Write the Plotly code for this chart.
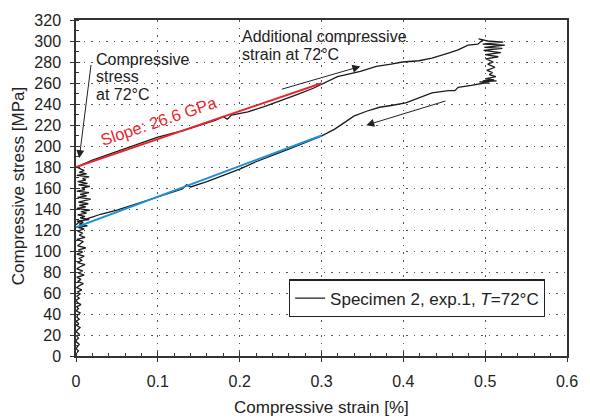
import plotly.graph_objects as go

# ---- data ----
# rise of stress at ~zero strain (heating at 72°C)
strain_vert = [0.001, 0.003, 0.000, 0.002, 0.004, 0.001, 0.000, 0.003, 0.001, 0.004,
               0.000, 0.002, 0.005, 0.001, 0.003, 0.000, 0.004, 0.001, 0.002, 0.005,
               0.000, 0.003, 0.001, 0.006, 0.002, 0.000, 0.004, 0.001, 0.005,
               0.002, 0.007, 0.001, 0.004, 0.009, 0.002, 0.006, 0.001, 0.010, 0.003,
               0.008, 0.001, 0.005, 0.011, 0.002, 0.007, 0.004, 0.010, 0.001, 0.008,
               0.003, 0.012, 0.002, 0.006, 0.009, 0.001, 0.011, 0.004, 0.008, 0.002,
               0.010, 0.002, 0.014, 0.004, 0.009, 0.001, 0.016, 0.005, 0.011, 0.002,
               0.013, 0.006, 0.017, 0.001, 0.012, 0.004, 0.015, 0.003, 0.010, 0.018,
               0.002, 0.013, 0.005, 0.016, 0.001, 0.011, 0.007, 0.017, 0.003, 0.014,
               0.002, 0.012, 0.008, 0.016, 0.001, 0.013, 0.004, 0.010, 0.006, 0.001]
stress_vert = [3, 5, 7, 9, 11, 13, 15, 17, 19, 21,
               23, 25, 27, 29, 31, 33, 35, 37, 39, 41,
               43, 45, 47, 49, 51, 53, 55, 57, 59,
               61, 63, 65, 67, 69, 71, 73, 75, 77, 79,
               81, 83, 85, 87, 89, 91, 93, 95, 97, 99,
               101, 103, 105, 107, 109, 111, 113, 115, 117, 119,
               121, 122.5, 124, 125.5, 127, 128.5, 130, 131.5, 133, 134.5,
               136, 137.5, 139, 140.5, 142, 143.5, 145, 146.5, 148, 149.5,
               151, 152.5, 154, 155.5, 157, 158.5, 160, 161.5, 163, 164.5,
               166, 167.5, 169, 170.5, 172, 173.5, 175, 176.5, 178, 180]
# additional compressive loading
strain_load = [0.02, 0.04, 0.06, 0.08, 0.10, 0.12, 0.13, 0.15, 0.17, 0.18, 0.185, 0.19,
               0.21, 0.23, 0.25, 0.27, 0.29, 0.30, 0.3195, 0.3475, 0.367, 0.385, 0.399,
               0.419, 0.435, 0.455, 0.467, 0.479, 0.491]
stress_load = [186.5, 192, 197.5, 203.5, 208.5, 212.5, 214.5, 219.5, 224.5, 228, 225.5, 229.5,
               232.5, 237.5, 243, 249, 255, 258.5, 266, 271, 275.8, 278, 280,
               281.2, 283.7, 288.4, 291.6, 296, 297]
# hold near maximum strain
strain_hold = [0.497, 0.492, 0.503, 0.522, 0.497, 0.524, 0.499, 0.521, 0.498, 0.519,
               0.500, 0.516, 0.501, 0.510, 0.503, 0.512, 0.502, 0.509, 0.505, 0.513,
               0.500, 0.511, 0.497, 0.514, 0.493, 0.505]
stress_hold = [301, 302, 300, 299, 297, 296, 294, 293, 291, 289,
               287, 285, 283, 280, 278, 275, 272, 270, 268, 266,
               264, 263, 262, 262, 261, 260]
# unloading
strain_unload = [0.499, 0.483, 0.467, 0.463, 0.455, 0.435, 0.419, 0.403, 0.387, 0.371,
                 0.355, 0.3395, 0.3275, 0.3156, 0.2997, 0.280, 0.260, 0.240, 0.220, 0.200,
                 0.180, 0.160, 0.140, 0.135, 0.130, 0.110, 0.090, 0.070, 0.050, 0.030,
                 0.015, 0.003, 0.000]
stress_unload = [260, 257.8, 255.9, 252.7, 252.7, 250.5, 245.7, 241, 238.8, 236.9,
                 233.1, 228.4, 222, 215.8, 209.4, 203, 197, 191, 185, 178,
                 172, 166, 161, 163, 159, 154, 149, 144, 139, 135,
                 131, 127, 125]

# linear fits
red_fit_strain = [0.0, 0.30]
red_fit_stress = [180.0, 259.8]
blue_fit_strain = [0.0, 0.30]
blue_fit_stress = [122.5, 210.0]

x_ticks = [0, 0.1, 0.2, 0.3, 0.4, 0.5, 0.6]
y_ticks = list(range(0, 321, 20))

strain = strain_vert + strain_load + strain_hold + strain_unload
stress = stress_vert + stress_load + stress_hold + stress_unload

FONT = "Liberation Sans, Arial, sans-serif"
TXT = "#222222"

fig = go.Figure()
fig.add_trace(go.Scatter(x=strain, y=stress, mode="lines",
                         line=dict(color="#1c1c1c", width=1.3),
                         name="Specimen 2, exp.1, <i>T</i>=72°C"))
fig.add_trace(go.Scatter(x=red_fit_strain, y=red_fit_stress, mode="lines",
                         line=dict(color="#e8262b", width=2), showlegend=False))
fig.add_trace(go.Scatter(x=blue_fit_strain, y=blue_fit_stress, mode="lines",
                         line=dict(color="#1e90d8", width=2), showlegend=False))
# empty trace for the overlay axes (inner halves of the crossing ticks)
fig.add_trace(go.Scatter(x=[], y=[], xaxis="x2", yaxis="y2", showlegend=False))

grid_dash = "1.5px,6px"
axis_common = dict(showline=True, linecolor="#333333", linewidth=1.5, mirror=True,
                   zeroline=False, showgrid=True, gridcolor="#555555", gridwidth=1.2,
                   griddash=grid_dash, ticks="outside", ticklen=4, tickwidth=1.2,
                   tickcolor="#333333", tickfont=dict(family=FONT, size=16, color=TXT))

fig.update_layout(
    width=590, height=419,
    margin=dict(l=76, r=12, t=18, b=63),
    paper_bgcolor="white", plot_bgcolor="white",
    xaxis=dict(range=[0, 0.6], tickvals=x_ticks, ticktext=[f"{v:g}" for v in x_ticks],
               ticklabelstandoff=6,
               minor=dict(dtick=0.02, ticks="inside", ticklen=3, tickcolor="#333333",
                          tickwidth=1, showgrid=False),
               **axis_common),
    yaxis=dict(range=[0, 320], tickvals=y_ticks, ticklabelstandoff=6,
               minor=dict(dtick=10, ticks="inside", ticklen=3, tickcolor="#333333",
                          tickwidth=1, showgrid=False),
               **axis_common),
    xaxis2=dict(overlaying="x", anchor="y", side="bottom", range=[0, 0.6],
                tickvals=x_ticks, showticklabels=False, ticks="inside", ticklen=4,
                tickwidth=1.2, tickcolor="#333333", showgrid=False, showline=False,
                zeroline=False),
    yaxis2=dict(overlaying="y", anchor="x", side="left", range=[0, 320],
                tickvals=y_ticks, showticklabels=False, ticks="inside", ticklen=4,
                tickwidth=1.2, tickcolor="#333333", showgrid=False, showline=False,
                zeroline=False),
    showlegend=True,
    legend=dict(x=0.955, y=0.228, xanchor="right", yanchor="top",
                bgcolor="white", bordercolor="#222222", borderwidth=1.2,
                font=dict(family=FONT, size=17, color=TXT),
                itemwidth=30, tracegroupgap=0),
    font=dict(family=FONT, size=16, color=TXT),
)

ann = []
# axis titles
ann.append(dict(text="Compressive strain [%]", xref="paper", yref="paper", x=0.5, y=-0.154,
                xanchor="center", yanchor="middle", showarrow=False,
                font=dict(family=FONT, size=17, color=TXT)))
ann.append(dict(text="Compressive stress [MPa]", xref="paper", yref="paper", x=-0.117, y=0.504,
                xanchor="center", yanchor="middle", showarrow=False, textangle=-90,
                font=dict(family=FONT, size=17, color=TXT)))
# text labels
for txt, xx, yy in [("Compressive", 0.022, 282.4), ("stress", 0.022, 266.4),
                    ("at 72°C", 0.022, 249.3),
                    ("Additional compressive", 0.200, 304.3),
                    ("strain at 72°C", 0.200, 287.5)]:
    ann.append(dict(text=txt, xref="x", yref="y", x=xx, y=yy, xanchor="left",
                    yanchor="middle", showarrow=False,
                    font=dict(family=FONT, size=16, color=TXT)))
ann.append(dict(text="Slope: 26.6 GPa", xref="x", yref="y", x=0.101, y=223.5,
                xanchor="center", yanchor="middle", showarrow=False, textangle=-18.6,
                font=dict(family=FONT, size=16.5, color="#e8262b")))
# arrows
for (hx, hy, tx, ty) in [(0.004, 188.5, 0.0186, 278.6),
                         (0.3475, 275.8, 0.2497, 253.7),
                         (0.3547, 219.8, 0.4533, 243.3)]:
    ann.append(dict(text="", xref="x", yref="y", x=hx, y=hy, axref="x", ayref="y",
                    ax=tx, ay=ty, showarrow=True, arrowhead=2, arrowsize=1.6,
                    arrowwidth=1, arrowcolor="#222222", standoff=0, startstandoff=0))
fig.update_layout(annotations=ann)

fig.write_html("out.html")
